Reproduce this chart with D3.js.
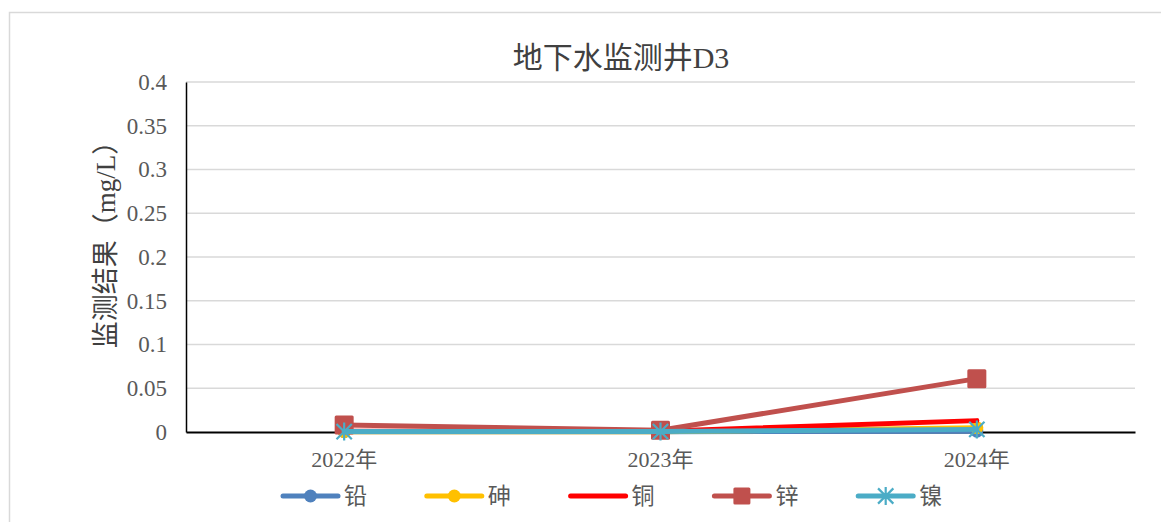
<!DOCTYPE html>
<html>
<head>
<meta charset="utf-8">
<script src="https://cdn.jsdelivr.net/npm/d3@7"></script>
<style>
  html, body { margin: 0; padding: 0; background: #fff; }
  svg { display: block; }
  text { font-family: "Liberation Serif", "Times New Roman", "Noto Sans CJK SC", serif; }
</style>
</head>
<body>
<svg id="chart" width="1161" height="522"></svg>
<script>
// Groundwater monitoring well D3 — heavy metal results by year (mg/L)
const categories = ["2022年", "2023年", "2024年"];
const seriesNames = ["铅", "砷", "铜", "锌", "镍"];
const lead    = [0.0003, 0.0003, 0.001];
const arsenic = [0.0003, 0.0003, 0.005];
const copper  = [0.001, 0.001, 0.013];
const zinc    = [0.008, 0.002, 0.061];
const nickel  = [0.0005, 0.0005, 0.003];
const yTicks = [0, 0.05, 0.1, 0.15, 0.2, 0.25, 0.3, 0.35, 0.4];
const yTickLabels = ["0", "0.05", "0.1", "0.15", "0.2", "0.25", "0.3", "0.35", "0.4"];
const chartTitle = "地下水监测井D3";
const yTitle = "监测结果（mg/L）";

const series = [
  { name: seriesNames[0], values: lead,    color: "#4F81BD", marker: "circle" },
  { name: seriesNames[1], values: arsenic, color: "#FFC000", marker: "circle" },
  { name: seriesNames[2], values: copper,  color: "#FF0000", marker: "none" },
  { name: seriesNames[3], values: zinc,    color: "#C0504D", marker: "square" },
  { name: seriesNames[4], values: nickel,  color: "#4BACC6", marker: "star" }
];

const svg = d3.select("#chart");
const plot = { left: 186, right: 1135, top: 82, bottom: 432 };

// Outer chart frame
svg.append("rect")
  .attr("x", 9.5).attr("y", 12.5)
  .attr("width", 1170).attr("height", 540)
  .attr("fill", "#fff").attr("stroke", "#D9D9D9").attr("stroke-width", 1.5);

const x = d3.scaleBand().domain(categories).range([plot.left, plot.right]);
const y = d3.scaleLinear().domain([0, 0.4]).range([plot.bottom, plot.top]);
const cx = c => x(c) + x.bandwidth() / 2;

// Horizontal gridlines
svg.append("g")
  .selectAll("line")
  .data(yTicks.filter(t => t > 0))
  .join("line")
  .attr("x1", plot.left).attr("x2", plot.right)
  .attr("y1", d => y(d)).attr("y2", d => y(d))
  .attr("stroke", "#D9D9D9").attr("stroke-width", 1.5);

// Y axis
const yAxis = svg.append("g")
  .attr("transform", `translate(${plot.left},0)`)
  .call(d3.axisLeft(y).tickValues(yTicks).tickSize(0).tickPadding(19)
    .tickFormat((d, i) => yTickLabels[i]));
yAxis.select(".domain").attr("stroke", "#000").attr("stroke-width", 1.5);
yAxis.selectAll("text")
  .attr("fill", "#595959").style("font-size", "23px")
  .style("font-family", "'Liberation Serif', 'Times New Roman', serif");

// X axis
const xAxis = svg.append("g")
  .attr("transform", `translate(0,${plot.bottom})`)
  .call(d3.axisBottom(x).tickSize(0).tickPadding(19));
xAxis.select(".domain").attr("stroke", "#000").attr("stroke-width", 2);
xAxis.selectAll("text")
  .attr("fill", "#595959").style("font-size", "22px");

// Series lines
const line = d3.line()
  .x((d, i) => cx(categories[i]))
  .y(d => y(d));

function drawMarker(g, type, color, px, py, small) {
  if (type === "circle") {
    g.append("circle").attr("cx", px).attr("cy", py).attr("r", 6.5)
      .attr("fill", color);
  } else if (type === "square") {
    const s = small ? 17 : 19;
    g.append("rect").attr("x", px - s / 2).attr("y", py - s / 2)
      .attr("width", s).attr("height", s).attr("rx", 1.5).attr("fill", color);
  } else if (type === "star") {
    const r = 9;
    const p = d3.path();
    p.moveTo(px - r * 0.85, py - r * 0.85); p.lineTo(px + r * 0.85, py + r * 0.85);
    p.moveTo(px + r * 0.85, py - r * 0.85); p.lineTo(px - r * 0.85, py + r * 0.85);
    p.moveTo(px, py - r); p.lineTo(px, py + r);
    g.append("path").attr("d", p.toString()).attr("stroke", color)
      .attr("stroke-width", 2.2).attr("fill", "none");
  }
}

const linesG = svg.append("g");
series.forEach(s => {
  const g = linesG.append("g");
  g.append("path")
    .datum(s.values)
    .attr("d", line)
    .attr("fill", "none")
    .attr("stroke", s.color)
    .attr("stroke-width", 5)
    .attr("stroke-linecap", "round")
    .attr("stroke-linejoin", "round");
  s.values.forEach((v, i) => drawMarker(g, s.marker, s.color, cx(categories[i]), y(v), false));
});

// Title
svg.append("text")
  .attr("x", 621).attr("y", 68)
  .attr("text-anchor", "middle")
  .attr("fill", "#404040")
  .style("font-size", "30px")
  .text(chartTitle);

// Y axis title
svg.append("text")
  .attr("transform", "translate(115,238) rotate(-90)")
  .attr("text-anchor", "middle")
  .attr("fill", "#404040")
  .style("font-size", "27px")
  .text(yTitle);

// Legend
const legend = svg.append("g").attr("transform", "translate(283,496)");
series.forEach((s, i) => {
  const g = legend.append("g").attr("transform", `translate(${i * 143.8},0)`);
  g.append("line").attr("x1", 0).attr("x2", 55).attr("y1", 0).attr("y2", 0)
    .attr("stroke", s.color).attr("stroke-width", 5).attr("stroke-linecap", "round");
  drawMarker(g, s.marker, s.color, 27.5, 0, true);
  g.append("text").attr("x", 61).attr("y", 8)
    .attr("fill", "#595959").style("font-size", "23px")
    .text(s.name);
});
</script>
</body>
</html>
